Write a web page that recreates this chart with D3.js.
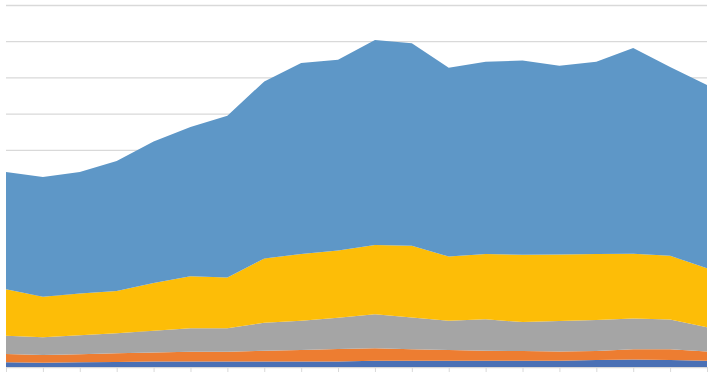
<!DOCTYPE html>
<html>
<head>
<meta charset="utf-8">
<script src="https://cdn.jsdelivr.net/npm/d3@7"></script>
<style>
  body { margin: 0; background: #fff; }
  svg { display: block; }
  .grid line { stroke: #d9d9d9; stroke-width: 1.3; }
  .grid path { display: none; }
  .xaxis line, .xaxis path { stroke: #d9d9d9; }
  .xaxis text { display: none; }
</style>
</head>
<body>
<svg id="chart" width="713" height="375"></svg>
<script>
// values (one gridline = 100)
var periods = d3.range(20);
var seriesA = [13, 12, 13, 14, 15, 15, 15, 15, 15, 15, 17, 17, 17, 17, 17, 17, 19, 21, 19, 17];
var seriesB = [23, 21, 22, 24, 25, 27, 27, 30, 32, 35, 35, 32, 30, 28, 27, 26, 25, 28, 30, 26];
var seriesC = [50, 49, 53, 55, 60, 65, 65, 77, 81, 86, 94, 88, 81, 87, 80, 84, 86, 85, 82, 67];
var seriesD = [129, 112, 115, 117, 132, 144, 140, 178, 184, 186, 191, 198, 177, 180, 186, 184, 182, 179, 176, 163];
var seriesE = [324, 331, 336, 359, 391, 412, 447, 489, 528, 527, 566, 559, 522, 531, 537, 521, 531, 568, 522, 506];
var seriesKeys = ["a", "b", "c", "d", "e"];
var yTicks = d3.range(0, 1001, 100);

var colors = {a: "#4a70b5", b: "#ed7d31", c: "#a5a5a5", d: "#fdbd07", e: "#5e97c7"};

var rows = periods.map(function (p, i) {
  return {p: p, a: seriesA[i], b: seriesB[i], c: seriesC[i], d: seriesD[i], e: seriesE[i]};
});

var svg = d3.select("#chart");
var x = d3.scaleLinear().domain([0, periods.length - 1]).range([6, 707]);
var y = d3.scaleLinear().domain([0, 1000]).range([367, 5]);

// horizontal gridlines
svg.append("g")
  .attr("class", "grid")
  .attr("transform", "translate(6,0)")
  .call(d3.axisLeft(y).tickValues(yTicks).tickSize(-701).tickFormat(""));

var stack = d3.stack().keys(seriesKeys);
var layers = stack(rows);

var area = d3.area()
  .x(function (d) { return x(d.data.p); })
  .y0(function (d) { return y(d[0]); })
  .y1(function (d) { return y(d[1]); });

svg.selectAll(".layer")
  .data(layers)
  .enter().append("path")
  .attr("class", "layer")
  .attr("fill", function (d) { return colors[d.key]; })
  .attr("d", area);

// bottom axis with short tick marks
svg.append("g")
  .attr("class", "xaxis")
  .attr("transform", "translate(0,367)")
  .call(d3.axisBottom(x).tickValues(periods).tickSize(5).tickSizeOuter(0));
</script>
</body>
</html>
